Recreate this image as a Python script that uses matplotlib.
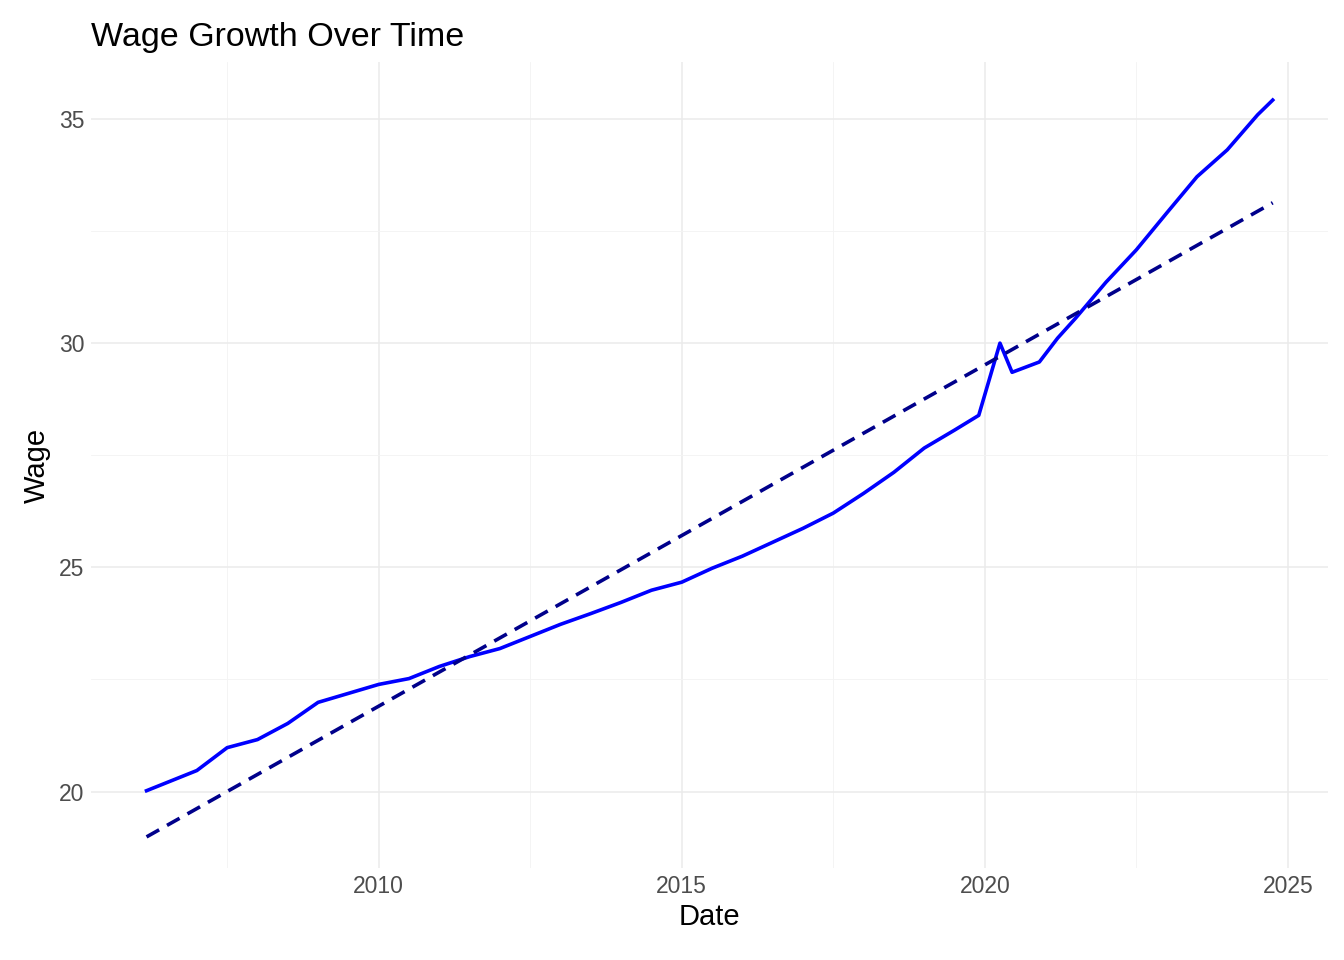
import matplotlib.pyplot as plt
import matplotlib.ticker as mticker

plt.rcParams['font.family'] = ['Liberation Sans', 'DejaVu Sans']

# wage (decimal years)
years = [2006.17, 2007.0, 2007.5, 2008.0, 2008.5, 2009.0, 2009.5, 2010.0, 2010.5,
         2011.0, 2011.5, 2012.0, 2012.5, 2013.0, 2013.5, 2014.0, 2014.5, 2015.0,
         2015.5, 2016.0, 2016.5, 2017.0, 2017.5, 2018.0, 2018.5, 2019.0, 2019.5,
         2019.9, 2020.25, 2020.45, 2020.9, 2021.2, 2021.5, 2022.0, 2022.5, 2023.0,
         2023.5, 2024.0, 2024.5, 2024.75]
wage = [20.02, 20.47, 20.98, 21.16, 21.52, 21.99, 22.19, 22.39, 22.52,
        22.79, 23.01, 23.19, 23.46, 23.73, 23.97, 24.22, 24.49, 24.67,
        24.98, 25.25, 25.56, 25.87, 26.21, 26.65, 27.12, 27.66, 28.06,
        28.39, 30.00, 29.35, 29.58, 30.11, 30.56, 31.36, 32.08, 32.90,
        33.71, 34.31, 35.09, 35.42]

# linear trend endpoints
trend_years = [2006.17, 2024.75]
trend_wage = [18.99, 33.13]

fig, ax = plt.subplots(figsize=(13.44, 9.6), dpi=100)
fig.subplots_adjust(left=0.068, right=0.988, top=0.935, bottom=0.096)

ax.plot(years, wage, color='blue', lw=2.6, zorder=3)
ax.plot(trend_years, trend_wage, color='#00008B', lw=2.6, ls=(0, (4, 2.5)), zorder=3)

ax.set_xlim(2005.26, 2025.66)
ax.set_ylim(18.3, 36.26)
ax.xaxis.set_major_locator(mticker.MultipleLocator(5))
ax.xaxis.set_minor_locator(mticker.MultipleLocator(2.5))
ax.yaxis.set_major_locator(mticker.MultipleLocator(5))
ax.yaxis.set_minor_locator(mticker.MultipleLocator(2.5))
ax.grid(which='major', color='#EBEBEB', lw=1.1)
ax.grid(which='minor', color='#F3F3F3', lw=0.6)
ax.set_axisbelow(True)
for s in ax.spines.values():
    s.set_visible(False)
ax.tick_params(which='both', length=0, labelsize=16.5, labelcolor='#4D4D4D', pad=5)

ax.set_title('Wage Growth Over Time', loc='left', fontsize=24.5, pad=12)
ax.set_xlabel('Date', fontsize=21, labelpad=4)
ax.set_ylabel('Wage', fontsize=21, labelpad=6)

fig.savefig('out.png')
